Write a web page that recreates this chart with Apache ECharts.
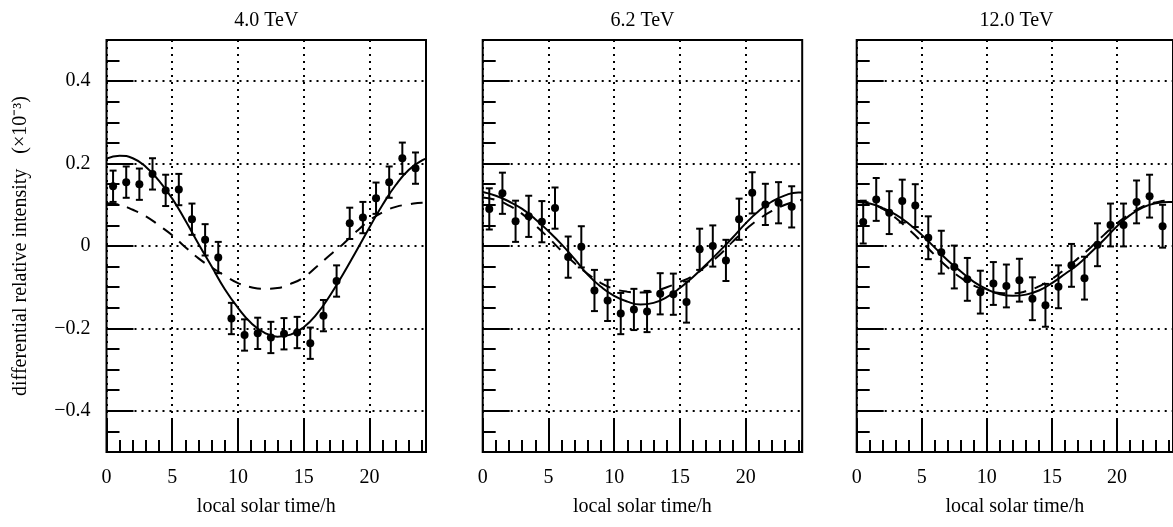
<!DOCTYPE html>
<html>
<head>
<meta charset="utf-8">
<script src="https://cdn.jsdelivr.net/npm/echarts@6/dist/echarts.min.js"></script>
<style>
html, body { margin: 0; padding: 0; background: #fff; }
#chart { width: 1173px; height: 527px; }
</style>
</head>
<body>
<div id="chart"></div>
<script>
// measured points, one per hour bin
var hours = [0.5, 1.5, 2.5, 3.5, 4.5, 5.5, 6.5, 7.5, 8.5, 9.5, 10.5, 11.5,
    12.5, 13.5, 14.5, 15.5, 16.5, 17.5, 18.5, 19.5, 20.5, 21.5, 22.5, 23.5];
var titles = ['4.0 TeV', '6.2 TeV', '12.0 TeV'];

var points40 = [0.145, 0.155, 0.150, 0.175, 0.135, 0.137, 0.065, 0.015, -0.028, -0.176, -0.216, -0.212,
    -0.222, -0.213, -0.210, -0.236, -0.169, -0.085, 0.055, 0.069, 0.116, 0.155, 0.213, 0.189];
var points62 = [0.090, 0.128, 0.060, 0.072, 0.059, 0.092, -0.027, -0.002, -0.108, -0.132, -0.164, -0.154,
    -0.159, -0.116, -0.117, -0.136, -0.008, 0.000, -0.035, 0.065, 0.129, 0.101, 0.105, 0.095];
var points120 = [0.058, 0.113, 0.081, 0.109, 0.098, 0.020, -0.015, -0.051, -0.081, -0.112, -0.091, -0.097,
    -0.083, -0.128, -0.144, -0.099, -0.047, -0.078, 0.003, 0.051, 0.051, 0.107, 0.121, 0.048];
var errors = [0.038, 0.050, 0.052];

// fitted curves
var fitHours = [0, 1, 2, 3, 4, 5, 6, 7, 8, 9, 10, 11, 12, 13, 14, 15, 16, 17, 18, 19, 20, 21, 22, 23, 24, 24.3];
var solid40 = [0.212, 0.219, 0.213, 0.192, 0.158, 0.115, 0.062, 0.005, -0.050, -0.105, -0.150, -0.187, -0.210,
    -0.220, -0.215, -0.197, -0.165, -0.120, -0.068, -0.012, 0.045, 0.100, 0.148, 0.185, 0.208, 0.212];
var dashed40 = [0.104, 0.100, 0.088, 0.072, 0.050, 0.026, -0.003, -0.030, -0.052, -0.072, -0.090, -0.100, -0.104,
    -0.102, -0.092, -0.076, -0.050, -0.022, 0.005, 0.035, 0.062, 0.082, 0.095, 0.101, 0.105, 0.105];
var solid62 = [0.131, 0.122, 0.108, 0.090, 0.065, 0.036, 0.004, -0.032, -0.070, -0.099, -0.121, -0.135, -0.142,
    -0.138, -0.124, -0.102, -0.075, -0.045, -0.013, 0.020, 0.055, 0.085, 0.108, 0.123, 0.130, 0.130];
var dashed62 = [0.118, 0.112, 0.098, 0.078, 0.050, 0.020, -0.012, -0.042, -0.068, -0.090, -0.104, -0.111, -0.113,
    -0.110, -0.100, -0.087, -0.072, -0.048, -0.022, 0.010, 0.040, 0.065, 0.085, 0.100, 0.110, 0.112];
var solid120 = [0.107, 0.103, 0.092, 0.076, 0.054, 0.027, -0.004, -0.035, -0.062, -0.087, -0.105, -0.117, -0.121,
    -0.118, -0.108, -0.090, -0.068, -0.045, -0.015, 0.015, 0.048, 0.075, 0.094, 0.104, 0.107, 0.107];
var dashed120 = [0.110, 0.105, 0.090, 0.068, 0.040, 0.010, -0.022, -0.052, -0.077, -0.096, -0.108, -0.114, -0.115,
    -0.110, -0.098, -0.080, -0.056, -0.030, -0.003, 0.027, 0.055, 0.078, 0.096, 0.106, 0.110, 0.110];

var xMajorTicks = [0, 5, 10, 15, 20];
var yMajorTicks = [-0.4, -0.2, 0, 0.2, 0.4];

var panelPoints = [points40, points62, points120];
var panelSolid = [solid40, solid62, solid120];
var panelDashed = [dashed40, dashed62, dashed120];

const font = 'Liberation Serif, Times New Roman, serif';
const fontSize = 20;
const gridLefts = [106.5, 482.7, 856.7];
const gridWidth = 319.5;

let chart = echarts.init(document.getElementById('chart'));

let errorBarItem = function (params, api) {
    let x = api.value(0), y = api.value(1), e = api.value(2);
    let top = api.coord([x, y + e]);
    let bot = api.coord([x, y - e]);
    let cap = 3.5;
    let style = { stroke: '#000', lineWidth: 2 };
    return {
        type: 'group',
        children: [
            { type: 'line', shape: { x1: top[0], y1: top[1], x2: bot[0], y2: bot[1] }, style: style },
            { type: 'line', shape: { x1: top[0] - cap, y1: top[1], x2: top[0] + cap, y2: top[1] }, style: style },
            { type: 'line', shape: { x1: bot[0] - cap, y1: bot[1], x2: bot[0] + cap, y2: bot[1] }, style: style }
        ]
    };
};

let yLabel = function (v) {
    if (Math.abs(v) < 1e-9) return '0';
    return v < 0 ? '\u2212' + (-v).toFixed(1) : v.toFixed(1);
};

let tickLine = { color: '#000', width: 2 };
let dotted = { color: '#000', width: 2, type: [2, 5] };
let textStyle = { color: '#000', fontFamily: font, fontSize: fontSize };

let grid = [], xAxis = [], yAxis = [], series = [], title = [];
for (let i = 0; i < 3; i++) {
    grid.push({
        left: gridLefts[i], top: 40, width: gridWidth, height: 412,
        show: true, borderColor: '#000', borderWidth: 2, backgroundColor: 'transparent'
    });
    title.push({
        text: titles[i], left: gridLefts[i] + gridWidth / 2 - 5, top: 6, textAlign: 'center',
        textStyle: Object.assign({ fontWeight: 'normal' }, textStyle)
    });
    // major x ticks + labels + dotted grid
    xAxis.push({
        gridIndex: i, type: 'value', min: 0, max: 24.3, position: 'bottom',
        axisLine: { show: false, onZero: false },
        axisTick: { inside: true, length: 34, customValues: xMajorTicks, lineStyle: tickLine },
        axisLabel: Object.assign({ customValues: xMajorTicks, margin: 16 }, textStyle),
        splitLine: { show: true, lineStyle: dotted },
        name: 'local solar time/h', nameLocation: 'middle', nameGap: 45,
        nameTextStyle: textStyle
    });
    // minor x ticks, every hour
    xAxis.push({
        gridIndex: i, type: 'value', min: 0, max: 24.3, interval: 1, position: 'bottom',
        axisLine: { show: false, onZero: false },
        axisTick: { inside: true, length: 12, lineStyle: tickLine },
        axisLabel: { show: false },
        splitLine: { show: false }
    });
    yAxis.push({
        gridIndex: i, type: 'value', min: -0.5, max: 0.5, position: 'left',
        axisLine: { show: false, onZero: false },
        axisTick: { inside: true, length: 27, customValues: yMajorTicks, lineStyle: tickLine },
        axisLabel: Object.assign({ show: i === 0, customValues: yMajorTicks, margin: 16, formatter: yLabel }, textStyle),
        splitLine: { show: true, lineStyle: dotted },
        name: i === 0 ? 'differential relative intensity   (\u00d710\u207b\u00b3)' : '',
        nameLocation: 'middle', nameGap: 76,
        nameTextStyle: textStyle
    });
    // minor y ticks every 0.05
    yAxis.push({
        gridIndex: i, type: 'value', min: -0.5, max: 0.5, interval: 0.05, position: 'left',
        axisLine: { show: false, onZero: false },
        axisTick: { inside: true, length: 13, lineStyle: tickLine },
        axisLabel: { show: false },
        splitLine: { show: false }
    });

    let solidData = fitHours.map((h, k) => [h, panelSolid[i][k]]);
    let dashedData = fitHours.map((h, k) => [h, panelDashed[i][k]]);
    let barData = hours.map((h, k) => [h, panelPoints[i][k], errors[i]]);

    series.push({
        type: 'line', xAxisIndex: 2 * i, yAxisIndex: 2 * i, data: dashedData,
        smooth: true, showSymbol: false, silent: true,
        lineStyle: { color: '#000', width: 2, type: [12, 9] }
    });
    series.push({
        type: 'line', xAxisIndex: 2 * i, yAxisIndex: 2 * i, data: solidData,
        smooth: true, showSymbol: false, silent: true,
        lineStyle: { color: '#000', width: 2 }
    });
    series.push({
        type: 'custom', xAxisIndex: 2 * i, yAxisIndex: 2 * i, data: barData,
        renderItem: errorBarItem, silent: true
    });
    series.push({
        type: 'scatter', xAxisIndex: 2 * i, yAxisIndex: 2 * i,
        data: hours.map((h, k) => [h, panelPoints[i][k]]),
        symbolSize: 8, itemStyle: { color: '#000', opacity: 1 }, silent: true
    });
}

chart.setOption({
    animation: false,
    backgroundColor: '#fff',
    title,
    grid,
    xAxis,
    yAxis,
    series
});
</script>
</body>
</html>
